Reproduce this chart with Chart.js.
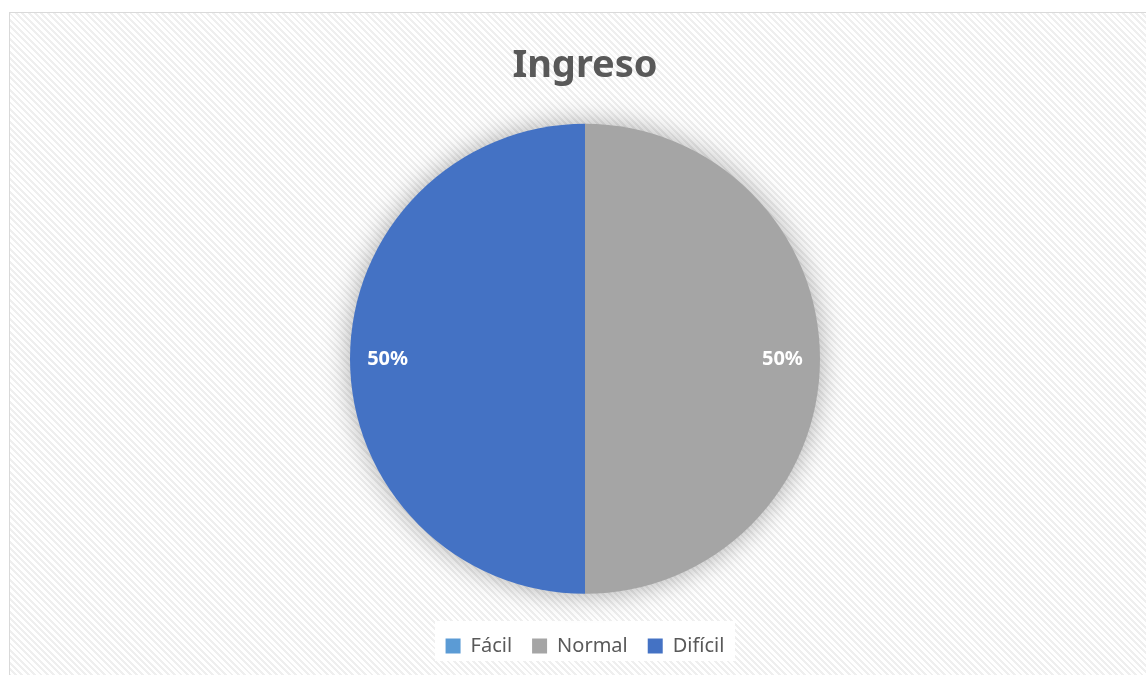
<!DOCTYPE html>
<html>
<head>
<meta charset="utf-8">
<script src="https://cdn.jsdelivr.net/npm/chart.js@4/dist/chart.umd.min.js"></script>
<style>
  html, body { margin: 0; padding: 0; background: #fff; }
  #wrap {
    position: absolute; left: 0; top: 0; width: 1146px; height: 675px;
  }
  #frame {
    position: absolute; left: 9px; top: 12px; width: 1150px; height: 680px;
    border: 1px solid #d9d9d9;
    background: repeating-linear-gradient(45deg, #ffffff 0px, #ffffff 2.5px, #efefef 2.5px, #efefef 4.5px);
  }
  canvas { position: absolute; left: 0; top: 0; }
</style>
</head>
<body>
<div id="wrap">
  <div id="frame"></div>
  <canvas id="myChart" width="1146" height="675"></canvas>
</div>
<script>
(() => {
  "use strict";

  const categories = ["Fácil", "Normal", "Difícil"];
  const values = [0, 50, 50];
  const colors = ["#5B9BD5", "#A5A5A5", "#4472C4"];

  const FONT = "'Noto Sans', 'Open Sans', sans-serif";

  // soft glow under the whole pie (drawn once, slices cover it)
  const shadowPlugin = {
    id: "pieShadow",
    beforeDatasetsDraw(chart) {
      const arc = chart.getDatasetMeta(0).data[0];
      if (!arc) return;
      const p = arc.getProps(["x", "y", "outerRadius"], true);
      const ctx = chart.ctx;
      ctx.save();
      ctx.shadowColor = "rgba(0,0,0,0.35)";
      ctx.shadowBlur = 28;
      ctx.fillStyle = "#a5a5a5";
      ctx.beginPath();
      ctx.arc(p.x, p.y, p.outerRadius - 1, 0, Math.PI * 2);
      ctx.fill();
      ctx.restore();
    },
  };

  // percentage labels inside slices
  const labelPlugin = {
    id: "sliceLabels",
    afterDraw(chart) {
      const ctx = chart.ctx;
      const meta = chart.getDatasetMeta(0);
      const total = values.reduce((a, b) => a + b, 0);
      ctx.save();
      ctx.fillStyle = "#ffffff";
      ctx.font = "bold 20px " + FONT;
      ctx.textAlign = "center";
      ctx.textBaseline = "middle";
      meta.data.forEach((arc, i) => {
        if (!values[i]) return;
        const p = arc.getProps(["x", "y", "startAngle", "endAngle", "outerRadius"], true);
        const mid = (p.startAngle + p.endAngle) / 2;
        const r = p.outerRadius * 0.84;
        const txt = Math.round((values[i] / total) * 100) + "%";
        ctx.fillText(txt, p.x + Math.cos(mid) * r, p.y + Math.sin(mid) * r);
      });
      ctx.restore();
    },
  };

  // white box behind the legend
  const legendBox = {
    id: "legendBox",
    beforeDraw(chart) {
      const lg = chart.legend;
      if (!lg) return;
      const ctx = chart.ctx;
      const w = 300, h = 40;
      const cx = (lg.left + lg.right) / 2;
      const cy = (lg.top + lg.bottom) / 2;
      ctx.save();
      ctx.fillStyle = "#ffffff";
      ctx.fillRect(cx - w / 2, cy - h / 2, w, h);
      ctx.restore();
    },
  };

  const chartEl = document.getElementById("myChart");
  new Chart(chartEl, {
    type: "pie",
    data: {
      labels: categories,
      datasets: [
        {
          data: values,
          backgroundColor: colors,
          borderWidth: 0,
          radius: 235,
        },
      ],
    },
    options: {
      responsive: false,
      animation: false,
      layout: { padding: { top: 0, bottom: 9, left: 24, right: 0 } },
      plugins: {
        title: {
          display: true,
          text: "Ingreso",
          color: "#595959",
          font: { family: FONT, size: 38, weight: "bold" },
          padding: { top: 43, bottom: 13 },
        },
        legend: {
          position: "bottom",
          labels: {
            color: "#595959",
            font: { family: FONT, size: 20 },
            boxWidth: 15,
            boxHeight: 15,
            padding: 20,
          },
        },
        tooltip: { enabled: false },
      },
    },
    plugins: [legendBox, shadowPlugin, labelPlugin],
  });
})();
</script>
</body>
</html>
